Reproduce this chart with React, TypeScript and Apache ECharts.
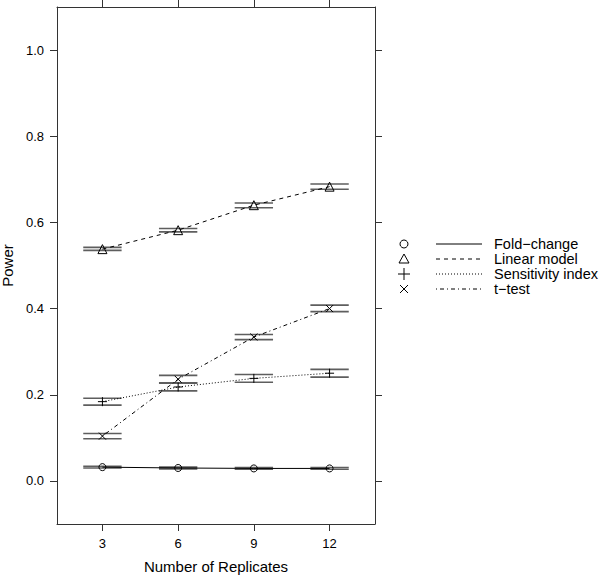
import React, { useEffect, useRef } from "react";
import * as echarts from "echarts";

const replicates = [3, 6, 9, 12];
const yTicks = [0, 0.2, 0.4, 0.6, 0.8, 1.0];

const foldChange = [0.032, 0.030, 0.029, 0.029];
const foldLow = [0.030, 0.028, 0.027, 0.027];
const foldHigh = [0.034, 0.032, 0.031, 0.031];

const linearModel = [0.538, 0.582, 0.640, 0.683];
const linearLow = [0.535, 0.578, 0.634, 0.677];
const linearHigh = [0.542, 0.586, 0.645, 0.689];

const sensitivity = [0.184, 0.218, 0.238, 0.250];
const sensLow = [0.176, 0.209, 0.229, 0.241];
const sensHigh = [0.192, 0.227, 0.247, 0.259];

const tTest = [0.104, 0.236, 0.334, 0.400];
const tLow = [0.098, 0.228, 0.328, 0.393];
const tHigh = [0.110, 0.245, 0.340, 0.408];

const methodNames = ["Fold\u2212change", "Linear model", "Sensitivity index", "t\u2212test"];

const PLUS = "path://M0,5L10,5M5,0L5,10";
const CROSS = "path://M0,0L10,10M10,0L0,10";

const FONT = "Liberation Sans, Arial, Helvetica, sans-serif";

export default function App() {
  const ref = useRef<HTMLDivElement>(null);
  useEffect(() => {
    if (!ref.current) return;
    const chart = echarts.init(ref.current, undefined, { renderer: "svg" });

    const methods = [
      { name: methodNames[0], v: foldChange, lo: foldLow, hi: foldHigh, symbol: "circle", size: 7, dash: "solid" as any },
      { name: methodNames[1], v: linearModel, lo: linearLow, hi: linearHigh, symbol: "triangle", size: 9, dash: [4, 4] },
      { name: methodNames[2], v: sensitivity, lo: sensLow, hi: sensHigh, symbol: PLUS, size: 9, dash: [1, 2] },
      { name: methodNames[3], v: tTest, lo: tLow, hi: tHigh, symbol: CROSS, size: 7, dash: [1, 3, 4, 3] },
    ];

    const series: any[] = [];
    methods.forEach((m) => {
      series.push({
        type: "custom",
        name: m.name + " CI",
        xAxisIndex: 0,
        yAxisIndex: 0,
        data: replicates.map((x, j) => [x, m.lo[j], m.hi[j]]),
        encode: { x: 0, y: [1, 2] },
        silent: true,
        z: 2,
        renderItem: (params: any, api: any) => {
          const x = api.value(0);
          const lo = api.value(1);
          const hi = api.value(2);
          const pLoL = api.coord([x - 0.76, lo]);
          const pLoR = api.coord([x + 0.76, lo]);
          const pHiL = api.coord([x - 0.76, hi]);
          const pHiR = api.coord([x + 0.76, hi]);
          const style = { stroke: "#5e5e5e", lineWidth: 1.6 };
          return {
            type: "group",
            children: [
              { type: "line", shape: { x1: pLoL[0], y1: pLoL[1], x2: pLoR[0], y2: pLoR[1] }, style },
              { type: "line", shape: { x1: pHiL[0], y1: pHiL[1], x2: pHiR[0], y2: pHiR[1] }, style },
            ],
          };
        },
      });
      series.push({
        type: "line",
        name: m.name,
        xAxisIndex: 0,
        yAxisIndex: 0,
        data: replicates.map((x, j) => [x, m.v[j]]),
        symbol: m.symbol,
        symbolSize: m.size,
        showAllSymbol: true,
        z: 3,
        lineStyle: { color: "#000", width: 1, type: m.dash },
        itemStyle: { color: "rgba(0,0,0,0)", borderColor: "#000", borderWidth: 1 },
      });
    });

    const axisLine = { show: true, onZero: false, lineStyle: { color: "#333", width: 1 } };
    const tickStyle = { color: "#333", width: 1 };

    // legend built with graphic
    const legendX = 404;
    const lineX1 = 436;
    const lineX2 = 482;
    const textX = 494;
    const rowY = [244, 259, 274, 289];
    const legendChildren: any[] = [];
    const dashes: any[] = [null, [4, 4], [1, 2], [1, 3, 4, 3]];
    methods.forEach((m, i) => {
      const y = rowY[i];
      if (i === 0) {
        legendChildren.push({ type: "circle", shape: { cx: legendX, cy: y, r: 4 }, style: { fill: "none", stroke: "#000", lineWidth: 1 } });
      } else if (i === 1) {
        legendChildren.push({ type: "polygon", shape: { points: [[legendX - 5, y + 4], [legendX + 5, y + 4], [legendX, y - 5]] }, style: { fill: "none", stroke: "#000", lineWidth: 1 } });
      } else if (i === 2) {
        legendChildren.push({ type: "line", shape: { x1: legendX - 6, y1: y, x2: legendX + 6, y2: y }, style: { stroke: "#000", lineWidth: 1 } });
        legendChildren.push({ type: "line", shape: { x1: legendX, y1: y - 6, x2: legendX, y2: y + 6 }, style: { stroke: "#000", lineWidth: 1 } });
      } else {
        legendChildren.push({ type: "line", shape: { x1: legendX - 4, y1: y - 4, x2: legendX + 4, y2: y + 4 }, style: { stroke: "#000", lineWidth: 1 } });
        legendChildren.push({ type: "line", shape: { x1: legendX - 4, y1: y + 4, x2: legendX + 4, y2: y - 4 }, style: { stroke: "#000", lineWidth: 1 } });
      }
      legendChildren.push({
        type: "line",
        shape: { x1: lineX1, y1: y, x2: lineX2, y2: y },
        style: { stroke: "#000", lineWidth: 1, lineDash: dashes[i] || undefined },
      });
      legendChildren.push({
        type: "text",
        x: textX,
        y: y,
        style: { text: m.name, font: `14.5px ${FONT}`, fill: "#000", verticalAlign: "middle" },
      });
    });

    chart.setOption({
      animation: false,
      backgroundColor: "#fff",
      textStyle: { fontFamily: FONT },
      grid: { left: 57, top: 7, width: 318, height: 517, containLabel: false, outerBoundsMode: "none" },
      xAxis: [
        {
          type: "value",
          position: "bottom",
          min: 1.2,
          max: 13.8,
          axisLine,
          axisTick: { show: true, inside: false, length: 7, customValues: replicates, lineStyle: tickStyle },
          axisLabel: { show: true, customValues: replicates, margin: 13, fontSize: 13, color: "#000", fontFamily: FONT },
          splitLine: { show: false },
          name: "Number of Replicates",
          nameLocation: "middle",
          nameGap: 35,
          nameTextStyle: { fontSize: 15, color: "#000", fontFamily: FONT },
        },
        {
          type: "value",
          position: "top",
          min: 1.2,
          max: 13.8,
          axisLine,
          axisTick: { show: true, inside: false, length: 7, customValues: replicates, lineStyle: tickStyle },
          axisLabel: { show: false },
          splitLine: { show: false },
        },
      ],
      yAxis: [
        {
          type: "value",
          position: "left",
          min: -0.1,
          max: 1.1,
          axisLine,
          axisTick: { show: true, inside: false, length: 7, customValues: yTicks, lineStyle: tickStyle },
          axisLabel: {
            show: true,
            customValues: yTicks,
            margin: 13,
            fontSize: 13,
            color: "#000",
            fontFamily: FONT,
            formatter: (v: number) => v.toFixed(1),
          },
          splitLine: { show: false },
          name: "Power",
          nameLocation: "middle",
          nameGap: 39,
          nameRotate: 90,
          nameTextStyle: { fontSize: 15, color: "#000", fontFamily: FONT },
        },
        {
          type: "value",
          position: "right",
          min: -0.1,
          max: 1.1,
          axisLine,
          axisTick: { show: true, inside: false, length: 7, customValues: yTicks, lineStyle: tickStyle },
          axisLabel: { show: false },
          splitLine: { show: false },
        },
      ],
      graphic: [{ type: "group", children: legendChildren }],
      series,
    });

    return () => chart.dispose();
  }, []);

  return <div ref={ref} style={{ position: "fixed", left: 0, top: 0, width: 600, height: 576 }} />;
}
